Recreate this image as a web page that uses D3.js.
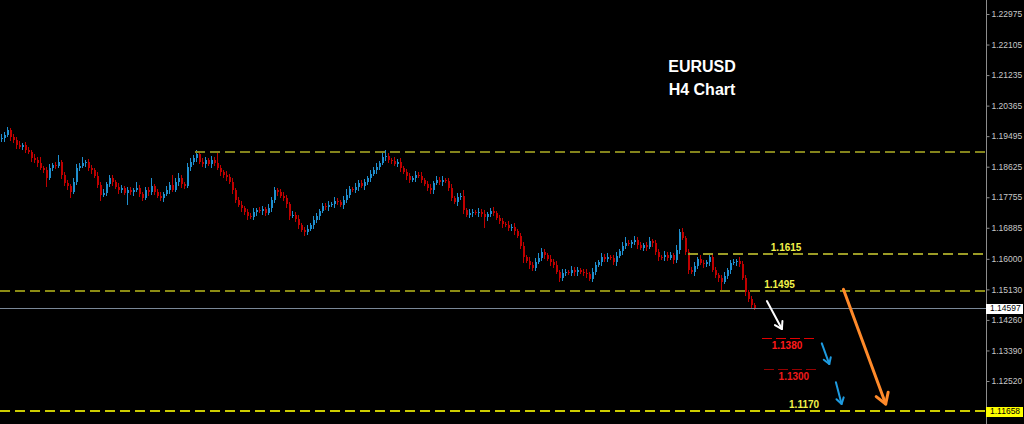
<!DOCTYPE html>
<html><head><meta charset="utf-8">
<script src="https://cdn.jsdelivr.net/npm/d3@7"></script>
<style>html,body{margin:0;padding:0;background:#000;overflow:hidden}</style>
</head><body><svg id="c" width="1024" height="424"></svg>
<script>
// ---- DATA ----
const symbol = "EURUSD";
const timeframe = "H4 Chart";
const firstOpen = 1.1940;
const closes = [
1.1944,1.1953,1.1967,1.1947,1.1938,1.1924,1.1919,1.1924,1.1910,1.1904,1.1887,1.1882,
1.1873,1.1859,1.1853,1.1830,1.1859,1.1867,1.1865,1.1876,1.1839,1.1816,1.1807,1.1790,
1.1819,1.1859,1.1865,1.1873,1.1875,1.1859,1.1853,1.1836,1.1810,1.1782,1.1788,1.1813,
1.1830,1.1819,1.1805,1.1796,1.1802,1.1788,1.1796,1.1790,1.1795,1.1802,1.1785,1.1773,
1.1796,1.1790,1.1807,1.1791,1.1779,1.1773,1.1785,1.1796,1.1810,1.1797,1.1819,1.1830,
1.1813,1.1807,1.1862,1.1876,1.1887,1.1899,1.1876,1.1870,1.1882,1.1870,1.1881,1.1873,
1.1859,1.1847,1.1839,1.1833,1.1819,1.1796,1.1768,1.1753,1.1745,1.1733,1.1722,1.1719,
1.1733,1.1739,1.1736,1.1742,1.1731,1.1745,1.1768,1.1796,1.1790,1.1779,1.1773,1.1756,
1.1722,1.1725,1.1713,1.1696,1.1682,1.1676,1.1685,1.1696,1.1711,1.1722,1.1736,1.1750,
1.1748,1.1753,1.1756,1.1765,1.1762,1.1753,1.1768,1.1782,1.1799,1.1796,1.1805,1.1816,
1.1807,1.1819,1.1830,1.1842,1.1853,1.1862,1.1873,1.1890,1.1893,1.1882,1.1879,1.1870,
1.1876,1.1859,1.1847,1.1836,1.1825,1.1830,1.1839,1.1837,1.1825,1.1813,1.1802,1.1796,
1.1816,1.1825,1.1819,1.1824,1.1822,1.1802,1.1773,1.1762,1.1776,1.1779,1.1739,1.1725,
1.1731,1.1733,1.1730,1.1734,1.1728,1.1719,1.1728,1.1736,1.1731,1.1716,1.1708,1.1699,
1.1696,1.1688,1.1691,1.1679,1.1665,1.1637,1.1605,1.1594,1.1582,1.1574,1.1591,1.1602,
1.1619,1.1611,1.1600,1.1591,1.1582,1.1563,1.1545,1.1560,1.1563,1.1559,1.1568,1.1562,
1.1567,1.1563,1.1560,1.1557,1.1543,1.1563,1.1582,1.1591,1.1605,1.1600,1.1606,1.1602,
1.1591,1.1608,1.1622,1.1637,1.1645,1.1642,1.1648,1.1654,1.1639,1.1631,1.1639,1.1634,
1.1651,1.1645,1.1619,1.1605,1.1604,1.1611,1.1602,1.1610,1.1597,1.1625,1.1676,1.1659,
1.1619,1.1568,1.1562,1.1580,1.1600,1.1588,1.1585,1.1591,1.1605,1.1568,1.1554,1.1545,
1.1534,1.1551,1.1568,1.1588,1.1591,1.1594,1.1585,1.1545,1.1506,1.1486,1.1469,1.1460
];
// upper / lower wick lengths in pips
const wickHi = [
12,8,9,6,10,8,12,6,10,8,6,12, 8,16,6,10,12,6,8,20,6,8,10,6, 10,12,8,16,6,10,8,6,10,8,12,6,
10,8,6,12,8,6,10,8,6,16,8,6, 10,8,23,6,8,10,6,12,8,30,10,14, 8,6,12,10,8,11,6,10,8,6,12,8,
28,8,6,12,8,10,6,8,12,6,8,10, 12,6,10,8,6,12,8,10,6,8,12,8, 6,10,8,12,6,8,10,6,12,8,6,10,
8,12,6,10,8,6,10,16,8,6,12,8, 10,8,6,12,8,10,6,12,17,8,6,10, 8,12,6,10,8,6,12,8,10,6,8,12,
6,10,8,12,6,8,10,6,12,8,16,6, 10,8,6,12,8,10,6,8,12,6,10,8, 6,12,8,10,6,8,10,6,12,8,10,16,
12,8,6,10,8,12,6,10,8,6,12,8, 10,6,8,12,6,10,8,6,12,8,10,6, 8,12,6,10,16,8,6,12,8,10,6,8,
12,6,10,8,6,12,8,10,6,14,8,12, 6,10,8,12,6,10,8,6,12,8,10,6, 8,12,6,10,8,6,12,8,10,6,8,6
];
const wickLo = [
8,12,6,10,8,12,6,10,8,6,12,8, 10,6,8,26,6,10,8,6,12,8,10,16, 6,10,8,6,12,8,10,6,8,16,6,10,
8,12,6,10,8,6,35,8,12,6,10,8, 6,12,8,10,6,8,12,6,10,8,6,12, 10,8,6,12,8,10,6,8,12,6,10,8,
6,10,8,12,6,10,8,6,12,8,10,6, 8,12,6,10,8,6,12,8,10,6,8,12, 10,6,8,12,6,10,8,6,12,8,10,6,
8,12,6,10,8,6,12,8,10,6,8,12, 6,10,8,12,6,10,8,6,12,8,10,6, 8,12,6,10,8,6,12,8,10,6,8,12,
10,6,8,12,6,10,8,6,12,8,10,6, 8,12,6,10,8,30,12,8,10,6,8,12, 6,10,8,12,6,10,16,6,12,8,10,6,
8,12,6,10,8,6,12,8,10,6,8,12, 10,6,8,12,6,10,8,6,12,8,10,6, 8,12,6,10,8,6,12,8,10,6,8,12,
6,10,8,12,6,10,8,6,12,8,10,6, 8,12,6,10,8,6,12,8,10,6,8,12, 23,6,8,12,6,10,8,6,12,8,10,6
];
const tickValues = [1.22975,1.22105,1.21235,1.20365,1.19495,1.18625,1.17755,1.16885,1.16000,1.15130,1.14260,1.13390,1.12520];
const currentPrice = 1.14597;
const targetPrice = 1.11658;
// horizontal levels: price, first bar index, label text, label bar index
const levelPrices = [1.19052, 1.16152, 1.15083, 1.13736, 1.12852, 1.11658];
const levelStart  = [64.7, 229, -1, 253.7, 254.3, -1];
const levelEnd    = [null, null, null, 272.3, 273, null];
const levelLabels = [null, "1.1615", "1.1495", "1.1380", "1.1300", "1.1170"];
const labelAt     = [null, 261.7, 259.5, 262, 264.3, 267.7];
// arrows: [bar index, price] -> [bar index, price]
const arrowFrom = [[255.3,1.14798],[273.6,1.13593],[278.3,1.12482],[280.8,1.15132]];
const arrowTo   = [[260.3,1.14001],[276.1,1.13003],[280.2,1.11864],[294.9,1.11864]];

// ---- STYLES ----
const levelStyle = [
 {stroke:"#84841c", w:2, dash:"10,5", label:null},
 {stroke:"#9c9c26", w:2, dash:"10,5", label:"#f2f24a", dy:-3},
 {stroke:"#8c8c14", w:2, dash:"10,5", label:"#f2f24a", dy:-3},
 {stroke:"#e00000", w:1, dash:"10,4", label:"#ff1a1a", dy:10.5},
 {stroke:"#960000", w:1, dash:"10,4", label:"#ee1a1a", dy:10.5},
 {stroke:"#cccc00", w:2, dash:"10,5", label:"#f2f24a", dy:-3}
];
const arrowStyle = [
 {c:"#ffffff", w:2, head:8},
 {c:"#1e9be0", w:2, head:7},
 {c:"#1e9be0", w:2, head:7},
 {c:"#ff8a2a", w:3, head:12}
];
const upColor = "#1f8fcf", downColor = "#c00000";

// ---- CHART ----
const svg = d3.select("#c");
svg.append("rect").attr("width",1024).attr("height",424).attr("fill","#000");
const axisX = 986;
const x = d3.scaleLinear().domain([0, closes.length-1]).range([1, 754]);
const y = d3.scaleLinear().domain([1.12520, 1.22975]).range([381, 14]);

const bars = closes.map((c,i)=>{
  const o = i===0 ? firstOpen : closes[i-1];
  return {i, o, c, h: Math.max(o,c)+wickHi[i]/10000, l: Math.min(o,c)-wickLo[i]/10000};
});

const g = svg.append("g").attr("shape-rendering","crispEdges");
// candles
const cg = g.selectAll("g.bar").data(bars).join("g");
cg.append("line")
  .attr("x1",d=>Math.round(x(d.i))+0.5).attr("x2",d=>Math.round(x(d.i))+0.5)
  .attr("y1",d=>y(d.h)).attr("y2",d=>y(d.l))
  .attr("stroke",d=>d.c>=d.o?upColor:downColor).attr("stroke-width",1);
cg.append("rect")
  .attr("x",d=>Math.round(x(d.i))).attr("width",2)
  .attr("y",d=>y(Math.max(d.o,d.c)))
  .attr("height",d=>Math.max(1, Math.abs(y(d.o)-y(d.c))))
  .attr("fill",d=>d.c>=d.o?upColor:downColor);

// current price line
g.append("line").attr("x1",0).attr("x2",axisX)
  .attr("y1",Math.round(y(currentPrice))+0.5).attr("y2",Math.round(y(currentPrice))+0.5)
  .attr("stroke","#7a8898").attr("stroke-width",1);

// levels
levelPrices.forEach((p,k)=>{
  const s = levelStyle[k];
  const x1 = levelStart[k] < 0 ? 0 : x(levelStart[k]);
  const x2 = levelEnd[k]==null ? axisX : x(levelEnd[k]);
  g.append("line").attr("x1",x1).attr("x2",x2)
    .attr("y1",y(p)).attr("y2",y(p))
    .attr("stroke",s.stroke).attr("stroke-width",s.w).attr("stroke-dasharray",s.dash);
  if (levelLabels[k]) {
    svg.append("text").attr("x",x(labelAt[k])).attr("y",y(p)+s.dy)
      .attr("text-anchor","middle").attr("font-family","Liberation Sans, Arial, sans-serif")
      .attr("font-weight","bold").attr("font-size","10px").attr("fill",s.label)
      .text(levelLabels[k]);
  }
});

// arrows
arrowFrom.forEach((f,k)=>{
  const s = arrowStyle[k];
  const x1=x(f[0]), y1=y(f[1]), x2=x(arrowTo[k][0]), y2=y(arrowTo[k][1]);
  const ang = Math.atan2(y2-y1, x2-x1);
  const a = 32*Math.PI/180;
  const ag = svg.append("g").attr("stroke",s.c).attr("stroke-width",s.w).attr("stroke-linecap","round").attr("fill","none");
  ag.append("line").attr("x1",x1).attr("y1",y1).attr("x2",x2).attr("y2",y2);
  ag.append("path").attr("stroke-linejoin","round").attr("d",
    `M${x2-s.head*Math.cos(ang-a)},${y2-s.head*Math.sin(ang-a)}L${x2},${y2}L${x2-s.head*Math.cos(ang+a)},${y2-s.head*Math.sin(ang+a)}`);
});

// title
const tg = svg.append("g").attr("font-family","Liberation Sans, Arial, sans-serif").attr("font-weight","bold")
  .attr("font-size","16px").attr("fill","#ffffff").attr("text-anchor","middle");
tg.append("text").attr("x",702).attr("y",72).text(symbol);
tg.append("text").attr("x",702).attr("y",95).text(timeframe);

// right axis
svg.append("line").attr("x1",axisX+0.5).attr("x2",axisX+0.5).attr("y1",0).attr("y2",424)
  .attr("stroke","#8c8c8c").attr("stroke-width",1).attr("shape-rendering","crispEdges");
const ax = svg.append("g").attr("transform",`translate(${axisX+0.5},0)`)
  .call(d3.axisRight(y).tickValues(tickValues).tickSize(3).tickPadding(2).tickFormat(d3.format(".5f")));
ax.select(".domain").remove();
ax.selectAll("line").attr("stroke","#8c8c8c");
ax.selectAll("text").attr("fill","#c8c8c8").attr("font-size","8.5px").attr("font-family","Liberation Sans, Arial, sans-serif");

function priceTag(p, bg){
  const yy = y(p);
  svg.append("rect").attr("x",axisX).attr("y",Math.round(yy)-4.5).attr("width",37).attr("height",10)
    .attr("fill",bg).attr("shape-rendering","crispEdges");
  svg.append("text").attr("x",axisX+4).attr("y",yy).attr("dy","0.35em").attr("fill","#000")
    .attr("font-size","8.5px").attr("font-family","Liberation Sans, Arial, sans-serif")
    .text(d3.format(".5f")(p));
}
priceTag(currentPrice, "#ffffff");
priceTag(targetPrice, "#ffff00");
</script></body></html>
